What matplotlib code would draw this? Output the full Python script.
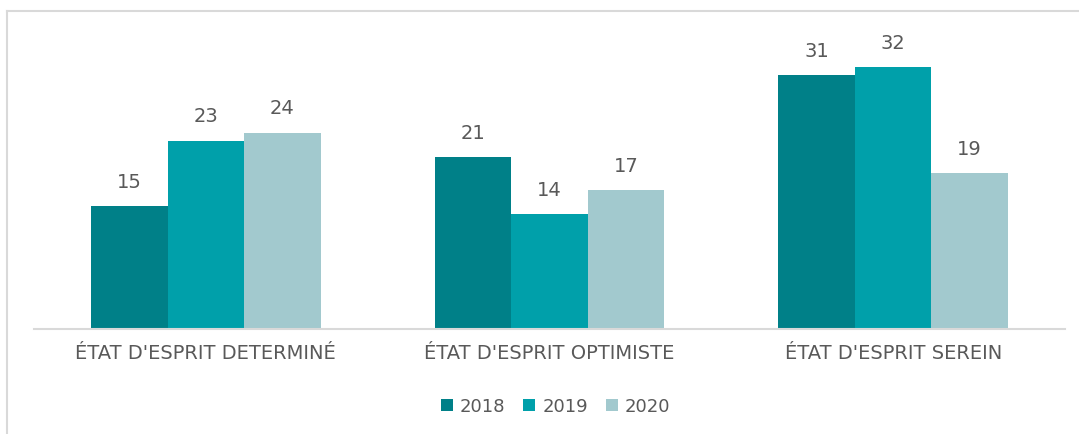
import numpy as np
import matplotlib
matplotlib.use('Agg')
import matplotlib.pyplot as plt
from matplotlib.lines import Line2D

categories = ["ÉTAT D'ESPRIT DETERMINÉ", "ÉTAT D'ESPRIT OPTIMISTE", "ÉTAT D'ESPRIT SEREIN"]
years = ['2018', '2019', '2020']
v2018 = [15, 21, 31]
v2019 = [23, 14, 32]
v2020 = [24, 17, 19]
colors = ['#008088', '#00A0AA', '#A2C9CE']

plt.rcParams['font.family'] = ['DejaVu Sans']
txt = '#595959'

fig = plt.figure(figsize=(10.79, 4.35), dpi=100)
ax = fig.add_axes([0.0315, 0.2414, 0.9555, 0.6586])

x = np.arange(len(categories))
w = 0.2225
series = [v2018, v2019, v2020]
for i, (vals, yr) in enumerate(zip(series, years)):
    bars = ax.bar(x + (i - 1) * w, vals, w, color=colors[i], label=yr)
    for b, v in zip(bars, vals):
        ax.annotate(str(v), (b.get_x() + b.get_width() / 2, v), xytext=(0, 11),
                    textcoords='offset points', ha='center', va='bottom',
                    fontsize=14, color=txt)

ax.set_xlim(-0.5, 2.5)
ax.set_ylim(0, 35)
ax.set_yticks([])
ax.set_xticks(x)
ax.set_xticklabels(categories, fontsize=14, color=txt)
ax.tick_params(axis='x', length=0, pad=10)
for s in ['top', 'right', 'left']:
    ax.spines[s].set_visible(False)
ax.spines['bottom'].set_color('#d9d9d9')
ax.spines['bottom'].set_linewidth(1.5)

leg = fig.legend(loc='center', bbox_to_anchor=(0.515, 0.064), ncol=3, frameon=False,
                 fontsize=13, handlelength=0.65, handleheight=0.65, handletextpad=0.4,
                 columnspacing=1.0)
for t in leg.get_texts():
    t.set_color(txt)

# outer frame (top and left edges visible)
fig.add_artist(Line2D([7 / 1079, 1], [1 - 12 / 435, 1 - 12 / 435], color='#d9d9d9', lw=1.5))
fig.add_artist(Line2D([7 / 1079, 7 / 1079], [0, 1 - 12 / 435], color='#d9d9d9', lw=1.5))

fig.savefig('out.png', dpi=100)
